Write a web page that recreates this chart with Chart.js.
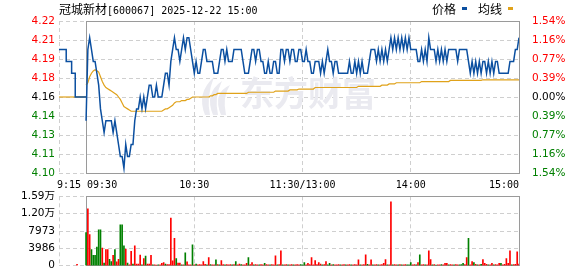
<!DOCTYPE html>
<html><head><meta charset="utf-8">
<script src="https://cdn.jsdelivr.net/npm/chart.js@4.4.1/dist/chart.umd.min.js"></script>
<style>
html,body{margin:0;padding:0;background:#fff;width:578px;height:276px;overflow:hidden;position:relative}
#c1{position:absolute;left:0;top:0}
#c2{position:absolute;left:0;top:186px}
.t{position:absolute;top:2px;height:14px;line-height:14px;font-size:12px;font-family:"Noto Sans CJK SC";color:#000;white-space:nowrap}
.m{font-family:"DejaVu Sans Mono";font-size:10px}
.k{position:absolute;top:7px;width:5px;height:3px}
</style></head><body>
<canvas id="c1" width="578" height="192"></canvas>
<canvas id="c2" width="578" height="90"></canvas>
<div class="t" style="left:59px">冠城新材<span class="m">[600067] 2025-12-22 15:00</span></div>
<div class="t" style="left:432px">价格</div>
<div class="k" style="left:462px;background:#0b4fa0"></div>
<div class="t" style="left:478px">均线</div>
<div class="k" style="left:508px;background:#e0a21a"></div>
<script>
// ---- data ----
const prevClose = 4.16;
const priceTicks = [4.096,4.112,4.128,4.144,4.16,4.176,4.192,4.208,4.224];
const priceTickLabels = ['4.10','4.11','4.13','4.14','4.16','4.18','4.19','4.21','4.22'];
const pctTickLabels = ['1.54%','1.16%','0.77%','0.39%','0.00%','0.39%','0.77%','1.16%','1.54%'];
const timeTicks = [-15,0,60,120,180,240];
const timeLabels = ['9:15','09:30','10:30','11:30/13:00','14:00','15:00'];
const volTicks = [0,3986.5,7973,11959.5,15946];
const volTickLabels = ['0','3986','7973','1.20万','1.59万'];

// pre-market (9:15-9:25 auction), minutes relative to 09:30
const preTimes  = [-15,-14,-13,-12,-11,-10,-9,-8,-7,-6,-5,0];
const prePrices = [4.20,4.20,4.20,4.20,4.20,4.19,4.19,4.19,4.18,4.18,4.16,4.16];
const preAvgTimes = [-15,0];
const preAvg = [4.16,4.16];
const preVolTimes = [-5];
const preVol = [300];

// minute prices 09:30..11:30, 13:01..15:00 (241 points)
const price = [
4.14,4.20,4.21,4.20,4.19,4.19,4.18,4.17,4.15,4.14,4.13,4.14,4.14,4.14,4.14,4.13,4.14,4.13,4.12,4.11,
4.11,4.10,4.12,4.11,4.11,4.12,4.12,4.14,4.15,4.15,4.16,4.15,4.16,4.15,4.16,4.17,4.17,4.16,4.16,4.17,
4.16,4.16,4.16,4.17,4.18,4.18,4.17,4.19,4.20,4.21,4.20,4.20,4.19,4.20,4.21,4.20,4.21,4.21,4.20,4.19,
4.18,4.19,4.18,4.18,4.19,4.20,4.20,4.19,4.19,4.19,4.19,4.18,4.18,4.18,4.19,4.20,4.20,4.19,4.20,4.19,
4.19,4.19,4.20,4.20,4.20,4.20,4.20,4.19,4.18,4.18,4.18,4.19,4.20,4.20,4.19,4.20,4.20,4.19,4.19,4.18,
4.18,4.19,4.18,4.18,4.19,4.19,4.18,4.18,4.20,4.20,4.19,4.20,4.20,4.19,4.20,4.20,4.19,4.19,4.20,4.20,
4.19,4.19,4.20,4.19,4.19,4.18,4.18,4.19,4.19,4.19,4.18,4.19,4.18,4.19,4.20,4.19,4.19,4.18,4.19,4.19,
4.18,4.18,4.18,4.18,4.18,4.18,4.19,4.18,4.18,4.19,4.18,4.19,4.18,4.19,4.18,4.18,4.18,4.19,4.20,4.20,
4.20,4.19,4.20,4.19,4.20,4.19,4.20,4.19,4.20,4.21,4.20,4.21,4.20,4.21,4.20,4.21,4.20,4.21,4.20,4.21,
4.20,4.20,4.20,4.20,4.19,4.19,4.20,4.19,4.20,4.19,4.21,4.20,4.20,4.20,4.19,4.20,4.19,4.20,4.19,4.20,
4.19,4.20,4.20,4.20,4.20,4.20,4.19,4.20,4.20,4.20,4.20,4.20,4.19,4.18,4.19,4.18,4.19,4.18,4.19,4.18,
4.19,4.19,4.18,4.19,4.18,4.19,4.18,4.19,4.19,4.18,4.18,4.18,4.18,4.18,4.18,4.19,4.19,4.19,4.20,4.20,4.21];

// average price line
const avg = [
4.170,4.172,4.177,4.180,4.182,4.183,4.182,4.181,4.177,4.173,4.170,4.168,4.167,4.166,4.165,4.164,4.163,4.162,4.160,4.158,
4.155,4.152,4.151,4.150,4.149,4.148,4.148,4.148,4.148,4.148,4.148,4.148,4.148,4.148,4.148,4.148,4.148,4.148,4.148,4.148,
4.148,4.148,4.148,4.149,4.150,4.150,4.151,4.152,4.153,4.155,4.156,4.156,4.156,4.157,4.157,4.157,4.158,4.158,4.159,4.160,
4.160,4.160,4.160,4.160,4.160,4.160,4.160,4.160,4.160,4.161,4.161,4.162,4.162,4.163,4.163,4.163,4.163,4.163,4.163,4.163,
4.163,4.163,4.163,4.163,4.163,4.163,4.163,4.163,4.163,4.163,4.164,4.164,4.164,4.164,4.164,4.164,4.164,4.164,4.164,4.164,
4.164,4.164,4.164,4.164,4.164,4.165,4.165,4.165,4.165,4.165,4.165,4.165,4.165,4.166,4.166,4.166,4.166,4.166,4.1667,4.1667,
4.1667,4.1667,4.1667,4.1667,4.1667,4.1667,4.1667,4.168,4.168,4.168,4.168,4.168,4.168,4.168,4.168,4.168,4.168,4.168,4.168,4.168,
4.168,4.168,4.168,4.168,4.168,4.168,4.168,4.168,4.168,4.168,4.168,4.169,4.169,4.169,4.169,4.169,4.169,4.169,4.169,4.169,
4.169,4.169,4.169,4.169,4.170,4.170,4.170,4.170,4.171,4.171,4.171,4.171,4.172,4.172,4.172,4.172,4.172,4.172,4.172,4.172,
4.172,4.172,4.172,4.172,4.172,4.172,4.173,4.173,4.173,4.173,4.173,4.173,4.173,4.173,4.173,4.173,4.173,4.173,4.173,4.173,
4.173,4.173,4.174,4.174,4.174,4.174,4.174,4.174,4.174,4.174,4.174,4.174,4.174,4.174,4.174,4.174,4.174,4.174,4.174,4.174,
4.1745,4.1745,4.1745,4.1745,4.1745,4.1745,4.1745,4.1745,4.1745,4.1745,4.1745,4.1745,4.1745,4.1745,4.1745,4.1745,4.1745,4.1745,4.1745,4.1745,4.1745];

// minute volume (shares) and side: r = up (red), g = down (green)
const vol = [
7600,13060,7160,3690,2360,2360,4280,8270,8270,4060,590,3690,3690,1480,960,2360,3690,890,1480,9370,
9370,4580,3840,590,200,3320,370,4580,370,370,2440,200,1620,2210,370,370,2360,200,200,120,
200,200,520,740,370,260,260,10920,1100,6270,1620,590,590,200,200,2950,890,200,200,4800,
200,370,200,280,200,960,300,200,1845,280,200,200,1330,280,200,1180,280,200,280,200,
280,200,280,960,200,370,280,200,200,520,1845,280,740,200,280,200,200,280,200,520,
280,200,200,280,200,2290,200,280,3390,200,200,280,200,200,280,200,200,280,200,280,
200,740,200,520,280,1845,200,1180,280,740,370,200,280,960,200,520,200,280,200,200,
280,200,200,280,200,200,280,200,200,280,200,1330,200,200,280,2510,300,200,1330,200,
200,280,200,200,280,520,1400,200,200,14690,200,280,200,200,280,200,200,280,200,200,
740,200,280,200,740,2510,200,280,200,200,3390,1400,200,280,120,200,200,280,200,520,
520,200,280,200,200,280,200,200,280,520,260,1845,6270,200,960,740,300,200,200,300,
1400,520,300,200,200,520,200,280,200,520,520,200,300,1620,520,3390,200,280,300,3170,400];
const volSide = (
"grrggggggrgrrggrgrrg"+"ggrgrrgrrrrgrgrrrgrr"+"grrrgrrrrrgrrgrgrrrg"+"rgrrrrrgrgrrgrgrrgrr"+
"rgrgrrgrrrgrrgrrgrrg"+"rrgrrrgrrgrrgrrgrrrg"+"ggrrrrrrrrrgrrggrgrr"+"rgrrgrrgrrrrgrrrgrrg"+
"rrgrrrrgrrgrrgrgrrgg"+"grrgrgrrgrrrgrgrrgrr"+"rgrrgrrgggrrgrrgrgrg"+"rrrgrrgrrrgrrrrrgrrrr").split('');

// ---- styles ----
const BLUE='#0b4fa0', GOLD='#e0a21a', RED='#ff0000', GREEN='#008000';
const GRID='#cfcfcf', FRAME='#9a9a9a';
const numFont = {family:"'DejaVu Sans','Noto Sans CJK SC'", size:10.5};
const timeFont = {family:"'DejaVu Sans Mono'", size:10};

const fixTicks = vals => s => { s.ticks = vals.map(v => ({value:v})); };
const zeroH = s => { s.height = 0; };
const w59 = s => { s.width = 59; };
const sideColor = v => v > prevClose + 1e-9 ? RED : (v < prevClose - 1e-9 ? GREEN : '#000');
const al = p => Math.round(p - 0.5) + 0.5;

const framePlugin = {
  id:'frame',
  beforeDatasetsDraw(chart){
    const {ctx, chartArea:a} = chart; const x = chart.scales.x;
    const x0 = al(x.getPixelForValue(0)), x1 = al(x.getPixelForValue(240));
    const y0 = al(a.top), y1 = al(a.bottom);
    ctx.save(); ctx.strokeStyle = FRAME; ctx.lineWidth = 1; ctx.setLineDash([]);
    ctx.strokeRect(x0, y0, x1 - x0, y1 - y0); ctx.restore();
  }
};
// the time-label axes take no layout height; give them a drawing band below the plot
const labelBand = {
  id:'labelBand',
  afterLayout(chart){
    ['xa','xd','xb','xc'].forEach(id => {
      const s = chart.scales[id];
      if (s) { s.top = chart.chartArea.bottom - 6; s.bottom = s.top + 25; }
    });
  }
};
const watermark = {
  id:'wm',
  beforeDatasetsDraw(chart){
    const {ctx} = chart;
    ctx.save();
    ctx.fillStyle = '#eaeaf0';
    for (let k = 0; k < 3; k++) {
      const bx = 205 + k*8, by = 115, tx = 214 + k*8, ty = 77 + k*4;
      ctx.beginPath();
      ctx.moveTo(bx, by);
      ctx.quadraticCurveTo(bx - 9, by - 22, tx, ty);
      ctx.quadraticCurveTo(bx + 1, by - 18, bx + 5, by);
      ctx.closePath(); ctx.fill();
    }
    ctx.font = "bold 34px 'Noto Sans CJK SC'";
    ctx.textBaseline = 'middle'; ctx.textAlign = 'left';
    ctx.fillText('东方财富', 240, 93);
    ctx.restore();
  }
};

const labelAxis = (vals, align, off) => ({
  type:'linear', position:'bottom', min:-15, max:240,
  afterBuildTicks: fixTicks(vals), afterFit: zeroH,
  grid:{display:false}, border:{display:false},
  ticks:{align, autoSkip:false, minRotation:0, maxRotation:0, padding:4, labelOffset:off||0, color:'#000', font:timeFont,
         callback: v => timeLabels[timeTicks.indexOf(v)]}
});

// ---- price chart ----
new Chart(document.getElementById('c1'), {
  type:'line',
  data:{datasets:[
    {data: preTimes.map((t,i)=>({x:t,y:prePrices[i]})), borderColor:BLUE, borderWidth:1.5, pointRadius:0, stepped:'after'},
    {data: price.map((p,i)=>({x:i,y:p})), borderColor:BLUE, borderWidth:1.5, pointRadius:0},
    {data: preAvgTimes.map((t,i)=>({x:t,y:preAvg[i]})), borderColor:GOLD, borderWidth:1.2, pointRadius:0},
    {data: avg.map((p,i)=>({x:i,y:p})), borderColor:GOLD, borderWidth:1.2, pointRadius:0}
  ]},
  options:{
    responsive:false, animation:false, devicePixelRatio:1,
    layout:{padding:{top:21,bottom:19,left:0,right:0}},
    plugins:{legend:{display:false}, tooltip:{enabled:false}},
    elements:{line:{tension:0}},
    scales:{
      x:{type:'linear', position:'bottom', min:-15, max:240,
         afterBuildTicks: fixTicks([-15,60,120,180]), afterFit: zeroH,
         ticks:{display:false}, grid:{color:GRID, drawTicks:false}, border:{display:false, dash:[4,3]}},
      xa: labelAxis([-15],'start',-2),
      xd: labelAxis([0],'start',1),
      xb: labelAxis([60,120,180],'center'),
      xc: labelAxis([240],'end'),
      y:{type:'linear', position:'left', min:4.096, max:4.224,
         afterBuildTicks: fixTicks(priceTicks), afterFit: w59,
         grid:{color:GRID, drawTicks:false}, border:{display:false, dash:[4,3]},
         ticks:{padding:4, font:numFont, color: c => sideColor(c.tick.value),
                callback:(v,i)=>priceTickLabels[i]}},
      y2:{type:'linear', position:'right', min:4.096, max:4.224,
         afterBuildTicks: fixTicks(priceTicks), afterFit: w59,
         grid:{display:false}, border:{display:false},
         ticks:{padding:5, font:numFont, color: c => sideColor(c.tick.value),
                callback:(v,i)=>pctTickLabels[i]}}
    }
  },
  plugins:[watermark, framePlugin, labelBand]
});

// ---- volume chart ----
new Chart(document.getElementById('c2'), {
  type:'bar',
  data:{datasets:[
    {data: vol.map((v,i)=>({x:i,y:v})), backgroundColor: volSide.map(s => s==='r'?RED:GREEN),
     barThickness:1, grouped:false, borderWidth:0},
    {data: preVolTimes.map((t,i)=>({x:t,y:preVol[i]})), backgroundColor:RED, barThickness:1, grouped:false, borderWidth:0}
  ]},
  options:{
    responsive:false, animation:false, devicePixelRatio:1,
    layout:{padding:{top:10,bottom:8,left:0,right:59}},
    plugins:{legend:{display:false}, tooltip:{enabled:false}},
    scales:{
      x:{type:'linear', position:'bottom', min:-15, max:240, offset:false,
         afterBuildTicks: fixTicks([-15,60,120,180]), afterFit: zeroH,
         ticks:{display:false}, grid:{color:GRID, drawTicks:false, offset:false}, border:{display:false, dash:[4,3]}},
      y:{type:'linear', position:'left', min:0, max:15946,
         afterBuildTicks: fixTicks(volTicks), afterFit: w59,
         grid:{color:GRID, drawTicks:false}, border:{display:false, dash:[4,3]},
         ticks:{padding:4, font:numFont, color:'#000', callback:(v,i)=>volTickLabels[i]}}
    }
  },
  plugins:[framePlugin]
});
</script>
</body></html>
